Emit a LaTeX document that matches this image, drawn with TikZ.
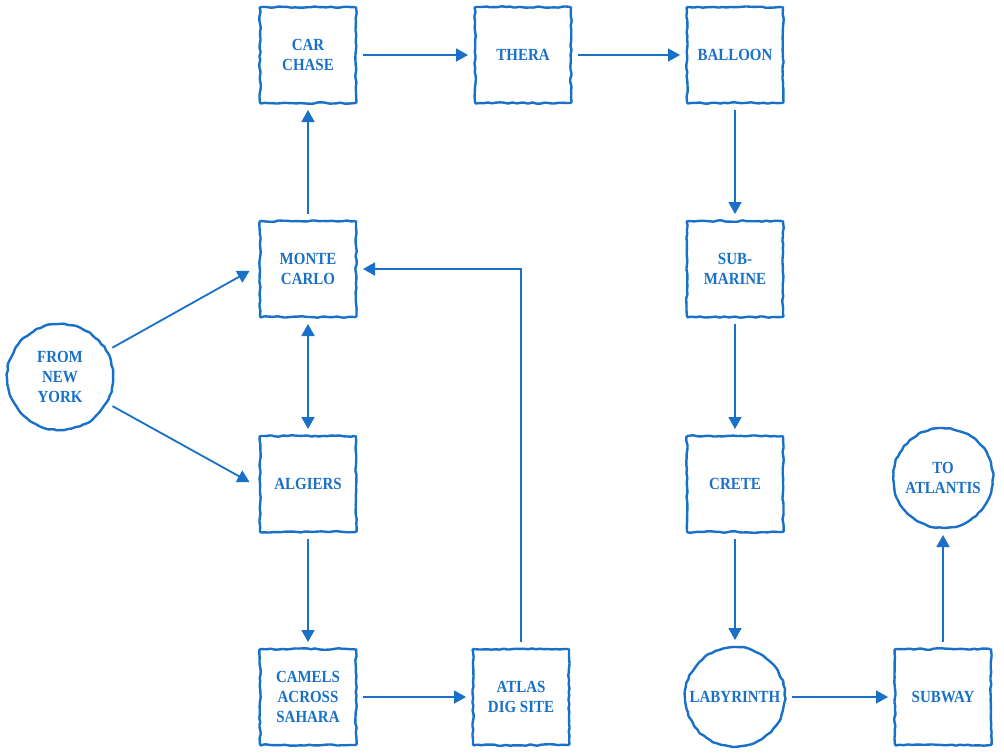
\documentclass[tikz,border=0pt]{standalone}
\usepackage{fontspec}
\newfontfamily\lab[FakeStretch=0.88]{Liberation Serif}
\usetikzlibrary{arrows.meta,decorations.pathmorphing,shapes.geometric}
\definecolor{ink}{RGB}{24,112,200}
\begin{document}
\begin{tikzpicture}[x=1pt,y=-1pt,
  rough/.style={draw=ink, line width=2.4pt, decorate,
    decoration={random steps, segment length=4pt, amplitude=0.8pt}, rounded corners=1pt},
  lbl/.style={text=ink, font=\lab\bfseries\fontsize{17}{20}\selectfont, align=center, inner sep=0pt, outer sep=7pt},
  box/.style={rough, lbl, rectangle, minimum width=96pt, minimum height=96pt},
  circ/.style={rough, lbl, circle, minimum size=#1},
  conn/.style={draw=ink, line width=1.8pt, -{Triangle[length=12pt,width=13pt]}},
  dconn/.style={draw=ink, line width=1.8pt, {Triangle[length=12pt,width=13pt]}-{Triangle[length=12pt,width=13pt]}}
]
\pgfmathsetseed{7}
\useasboundingbox (0,0) rectangle (1004,753);
\node[box] (cc) at (308,55) {CAR\\CHASE};
\node[box] (th) at (523,55) {THERA};
\node[box] (bl) at (735,55) {BALLOON};
\node[box] (mc) at (308,269) {MONTE\\CARLO};
\node[box] (sm) at (735,269) {SUB-\\MARINE};
\node[circ=106pt] (ny) at (60,377) {FROM\\NEW\\YORK};
\node[box] (al) at (308,484) {ALGIERS};
\node[box] (cr) at (735,484) {CRETE};
\node[circ=100pt] (ta) at (943,478) {TO\\ATLANTIS};
\node[box] (ca) at (308,697) {CAMELS\\ACROSS\\SAHARA};
\node[box] (at) at (521,697) {ATLAS\\DIG SITE};
\node[circ=100pt] (lb) at (735,697) {LABYRINTH};
\node[box] (sw) at (943,697) {SUBWAY};

\draw[conn, shorten >=4pt] (ny) -- (mc.west);
\draw[conn, shorten >=4pt] (ny) -- (al.west);
\draw[conn] (mc) -- (cc);
\draw[dconn] (mc) -- (al);
\draw[conn] (cc) -- (th);
\draw[conn] (th) -- (bl);
\draw[conn] (bl) -- (sm);
\draw[conn] (sm) -- (cr);
\draw[conn] (cr) -- (lb);
\draw[conn] (lb) -- (sw);
\draw[conn] (sw) -- (ta);
\draw[conn] (al) -- (ca);
\draw[conn] (ca) -- (at);
\draw[conn] (at.north) |- (mc.east);
\end{tikzpicture}
\end{document}
